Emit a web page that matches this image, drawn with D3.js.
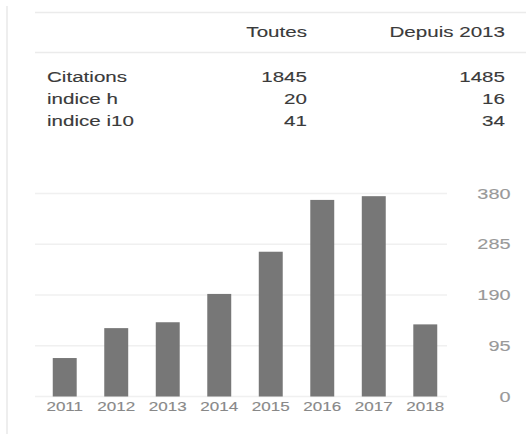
<!DOCTYPE html>
<html>
<head>
<meta charset="utf-8">
<script src="https://cdn.jsdelivr.net/npm/d3@7"></script>
<style>
  body { margin: 0; background: #fff; }
  svg { display: block; font-family: "Liberation Sans", Arial, sans-serif; }
</style>
</head>
<body>
<svg id="chart" width="528" height="434"></svg>
<script>
// table data
const columns = ['Toutes', 'Depuis 2013'];
const rowNames = ['Citations', 'indice h', 'indice i10'];
const allValues = [1845, 20, 41];
const sinceValues = [1485, 16, 34];

// citations per year
const years = ['2011', '2012', '2013', '2014', '2015', '2016', '2017', '2018'];
const citations = [72, 128, 139, 192, 271, 368, 375, 135];
const yTicks = [0, 95, 190, 285, 380];

const svg = d3.select('#chart');
const stretch = 1.42; // the screenshot text is wide

function label(g, x, y, txt, size, color, anchor) {
    return g.append('text')
        .attr('transform', 'translate(' + x + ',' + y + ') scale(' + stretch + ',1)')
        .attr('text-anchor', anchor)
        .attr('font-size', size)
        .attr('fill', color)
        .attr('stroke', color)
        .attr('stroke-width', 0.12)
        .text(txt);
}

// left border
svg.append('line')
    .attr('x1', 7).attr('x2', 7).attr('y1', 6).attr('y2', 434)
    .attr('stroke', '#eeeeee').attr('stroke-width', 2);

// table
const table = svg.append('g');
[12.5, 52.5].forEach(function(y) {
    table.append('line')
        .attr('x1', 35).attr('x2', 526).attr('y1', y).attr('y2', y)
        .attr('stroke', '#ebebeb').attr('stroke-width', 1.5);
});
const colX = [307, 505];
columns.forEach(function(c, i) {
    label(table, colX[i], 36.5, c, 14.5, '#3a3a3a', 'end');
});
const rowY = [82, 104, 126];
rowNames.forEach(function(r, i) {
    label(table, 47, rowY[i], r, 14.5, '#3a3a3a', 'start');
    label(table, colX[0], rowY[i], allValues[i], 14.5, '#3a3a3a', 'end');
    label(table, colX[1], rowY[i], sinceValues[i], 14.5, '#3a3a3a', 'end');
});

// bar chart
const x = d3.scaleBand()
    .domain(years)
    .range([39, 451])
    .paddingInner(0.535)
    .paddingOuter(0.267);

const y = d3.scaleLinear()
    .domain([0, 380])
    .range([396.5, 193.5]);

const chart = svg.append('g');

chart.selectAll('line.grid')
    .data(yTicks)
    .enter()
    .append('line')
    .attr('class', 'grid')
    .attr('x1', 35).attr('x2', 447)
    .attr('y1', function(d){ return y(d); })
    .attr('y2', function(d){ return y(d); })
    .attr('stroke', '#f0f0f0')
    .attr('stroke-width', 1.5);

chart.selectAll('rect.bar')
    .data(citations)
    .enter()
    .append('rect')
    .attr('class', 'bar')
    .attr('x', function(d, i){ return x(years[i]); })
    .attr('width', x.bandwidth())
    .attr('y', function(d){ return y(d); })
    .attr('height', function(d){ return y(0) - y(d); })
    .attr('fill', '#777777');

years.forEach(function(yr) {
    label(chart, x(yr) + x.bandwidth() / 2, 410.5, yr, 12, '#888', 'middle');
});

yTicks.forEach(function(t) {
    label(chart, 510.5, y(t) + 5, t, 14, '#999', 'end');
});
</script>
</body>
</html>
